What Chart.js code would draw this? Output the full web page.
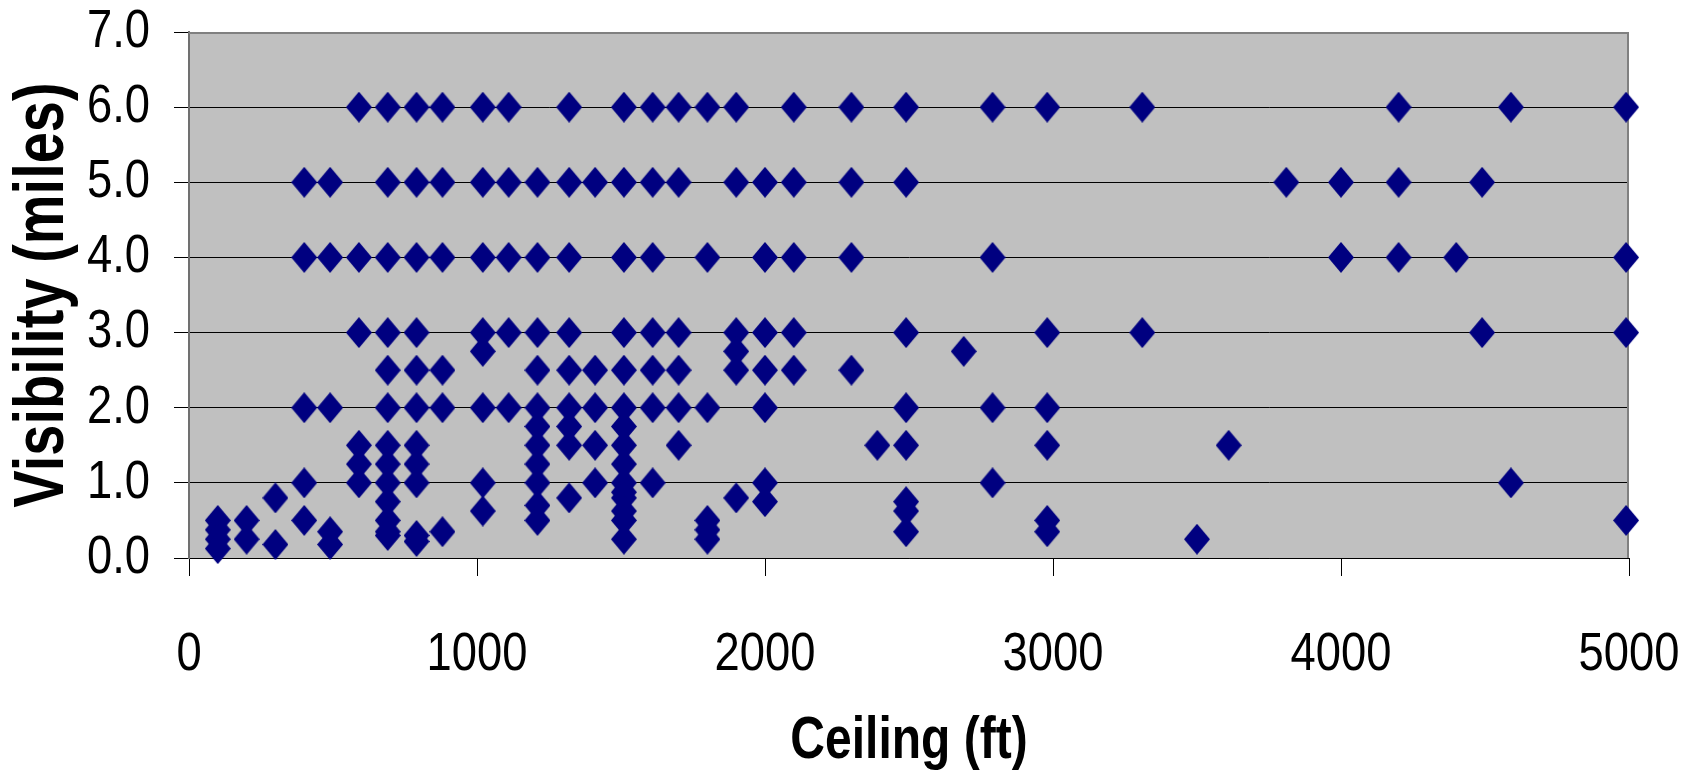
<!DOCTYPE html>
<html>
<head>
<meta charset="utf-8">
<script src="https://cdn.jsdelivr.net/npm/chart.js@4/dist/chart.umd.min.js"></script>
<style>
html,body{margin:0;padding:0;background:#ffffff;}
canvas{display:block;}
</style>
</head>
<body>
<canvas id="c" width="1698" height="772" style="width:1698px;height:772px"></canvas>
<script>
const ceilingFt = [
  // visibility 6.0
  590, 690, 790, 880, 1020, 1110, 1320, 1510, 1610, 1700, 1800, 1900, 2100, 2300, 2490, 2790, 2980, 3310, 4200, 4590, 4990,
  // visibility 5.0
  400, 490, 690, 790, 880, 1020, 1110, 1210, 1320, 1410, 1510, 1610, 1700, 1900, 2000, 2100, 2300, 2490, 3810, 4000, 4200, 4490,
  // visibility 4.0
  400, 490, 590, 690, 790, 880, 1020, 1110, 1210, 1320, 1510, 1610, 1800, 2000, 2100, 2300, 2790, 4000, 4200, 4400, 4990,
  // visibility 3.0
  590, 690, 790, 1020, 1110, 1210, 1320, 1510, 1610, 1700, 1900, 2000, 2100, 2490, 2980, 3310, 4490, 4990,
  // visibility 2.75
  1020, 1900, 2690,
  // visibility 2.5
  690, 790, 880, 1210, 1320, 1410, 1510, 1610, 1700, 1900, 2000, 2100, 2300,
  // visibility 2.0
  400, 490, 690, 790, 880, 1020, 1110, 1210, 1320, 1410, 1510, 1610, 1700, 1800, 2000, 2490, 2790, 2980,
  // visibility 1.75
  1210, 1320, 1510,
  // visibility 1.5
  590, 690, 790, 1210, 1320, 1410, 1510, 1700, 2390, 2490, 2980, 3610,
  // visibility 1.25
  590, 690, 790, 1210, 1510,
  // visibility 1.0
  400, 590, 690, 790, 1020, 1210, 1410, 1510, 1610, 2000, 2790, 4590,
  // visibility below 1 mile
  100, 100, 100, 100, 200, 200, 300, 300, 400, 490, 490,
  690, 690, 690, 690, 790, 790, 880, 1020, 1210, 1210, 1320,
  1510, 1510, 1510, 1510, 1510, 1800, 1800, 1800, 1900, 2000,
  2490, 2490, 2490, 2980, 2980, 3500, 4990
];
const visibilityMi = [
  6, 6, 6, 6, 6, 6, 6, 6, 6, 6, 6, 6, 6, 6, 6, 6, 6, 6, 6, 6, 6,
  5, 5, 5, 5, 5, 5, 5, 5, 5, 5, 5, 5, 5, 5, 5, 5, 5, 5, 5, 5, 5, 5,
  4, 4, 4, 4, 4, 4, 4, 4, 4, 4, 4, 4, 4, 4, 4, 4, 4, 4, 4, 4, 4,
  3, 3, 3, 3, 3, 3, 3, 3, 3, 3, 3, 3, 3, 3, 3, 3, 3, 3,
  2.75, 2.75, 2.75,
  2.5, 2.5, 2.5, 2.5, 2.5, 2.5, 2.5, 2.5, 2.5, 2.5, 2.5, 2.5, 2.5,
  2, 2, 2, 2, 2, 2, 2, 2, 2, 2, 2, 2, 2, 2, 2, 2, 2, 2,
  1.75, 1.75, 1.75,
  1.5, 1.5, 1.5, 1.5, 1.5, 1.5, 1.5, 1.5, 1.5, 1.5, 1.5, 1.5,
  1.25, 1.25, 1.25, 1.25, 1.25,
  1, 1, 1, 1, 1, 1, 1, 1, 1, 1, 1, 1,
  0.5, 0.375, 0.25, 0.125, 0.5, 0.25, 0.8, 0.18, 0.5, 0.35, 0.18,
  0.75, 0.5, 0.35, 0.3, 0.3, 0.22, 0.35, 0.625, 0.7, 0.5, 0.8,
  0.875, 0.8, 0.625, 0.5, 0.25, 0.5, 0.375, 0.25, 0.8, 0.75,
  0.75, 0.625, 0.35, 0.5, 0.35, 0.25, 0.5
];
const xTickValues = [0, 1000, 2000, 3000, 4000, 5000];
const yTickValues = [0, 1, 2, 3, 4, 5, 6, 7];
const xAxisTitle = 'Ceiling (ft)';
const yAxisTitle = 'Visibility (miles)';

const points = ceilingFt.map((x, i) => ({ x: x, y: visibilityMi[i] }));

// diamond marker (slightly taller than wide, as in the original)
const marker = document.createElement('canvas');
marker.width = 26; marker.height = 31;
(function () {
  const g = marker.getContext('2d');
  g.fillStyle = '#000080';
  g.beginPath();
  g.moveTo(13, 0); g.lineTo(26, 15.5); g.lineTo(13, 31); g.lineTo(0, 15.5);
  g.closePath(); g.fill();
})();

const FONT = "'Liberation Sans', Arial, sans-serif";
const TICK_SQUEEZE = 0.84;   // the original text is horizontally condensed
const TITLE_SQUEEZE = 0.80;

const condensedText = {
  id: 'condensedText',
  beforeDraw(chart) {
    const ctx = chart.ctx;
    if (ctx.__condensed) return;
    ctx.__condensed = true;
    const orig = ctx.fillText;
    ctx.fillText = function (text, x, y) {
      const f = /bold/.test(this.font) ? TITLE_SQUEEZE : TICK_SQUEEZE;
      this.save();
      this.translate(x, y);
      this.scale(f, 1);
      orig.call(this, text, 0, 0);
      this.restore();
    };
  }
};

const plotArea = {
  id: 'plotArea',
  beforeDraw(chart) {
    const { ctx, chartArea: a } = chart;
    ctx.save();
    ctx.fillStyle = '#c0c0c0';
    ctx.fillRect(a.left, a.top, a.right - a.left, a.bottom - a.top);
    ctx.restore();
  },
  beforeDatasetsDraw(chart) {
    const { ctx, chartArea: a } = chart;
    ctx.save();
    ctx.strokeStyle = '#808080';
    ctx.lineWidth = 2;
    ctx.beginPath();
    ctx.moveTo(a.left, a.top + 1);
    ctx.lineTo(a.right - 1, a.top + 1);
    ctx.lineTo(a.right - 1, a.bottom);
    ctx.stroke();
    ctx.restore();
  }
};

new Chart(document.getElementById('c'), {
  type: 'scatter',
  data: {
    datasets: [{
      data: points,
      pointStyle: marker,
      pointRadius: 13,
      pointHoverRadius: 13,
      backgroundColor: '#000080',
      borderColor: '#000080',
      clip: false
    }]
  },
  plugins: [condensedText, plotArea],
  options: {
    responsive: false,
    animation: false,
    devicePixelRatio: 1,
    layout: { padding: { top: 32, right: 69, bottom: 0, left: 0 } },
    plugins: { legend: { display: false }, tooltip: { enabled: false } },
    scales: {
      x: {
        type: 'linear',
        min: 0, max: 5000,
        afterBuildTicks: (s) => { s.ticks = xTickValues.map(v => ({ value: v })); },
        afterFit: (s) => { s.height = 214; s.paddingLeft = 0; s.paddingRight = 0; },
        ticks: {
          color: '#000',
          font: { family: FONT, size: 54 },
          padding: 47,
          maxRotation: 0,
          callback: (v) => String(v)
        },
        grid: { drawOnChartArea: false, drawTicks: true, tickLength: 18, color: '#000', lineWidth: 1 },
        border: { display: true, color: '#000', width: 1 },
        title: {
          display: true, text: xAxisTitle, color: '#000',
          font: { family: FONT, size: 60, weight: 'bold', lineHeight: 1 },
          padding: { top: 0, bottom: 1 }
        }
      },
      y: {
        type: 'linear',
        min: 0, max: 7,
        afterBuildTicks: (s) => { s.ticks = yTickValues.map(v => ({ value: v })); },
        afterFit: (s) => { s.width = 189; s.paddingTop = 0; s.paddingBottom = 0; },
        ticks: {
          color: '#000',
          font: { family: FONT, size: 54 },
          padding: 24,
          callback: (v) => Number(v).toFixed(1)
        },
        grid: {
          drawTicks: true, tickLength: 15, lineWidth: 1,
          color: (c) => (c.tick && c.tick.value === 7 ? '#808080' : '#000'),
          tickColor: '#000'
        },
        border: { display: true, color: '#707070', width: 2 },
        title: {
          display: true, text: yAxisTitle, color: '#000',
          font: { family: FONT, size: 70, weight: 'bold', lineHeight: 1 },
          padding: { top: 9, bottom: 0 }
        }
      }
    }
  }
});
</script>
</body>
</html>
